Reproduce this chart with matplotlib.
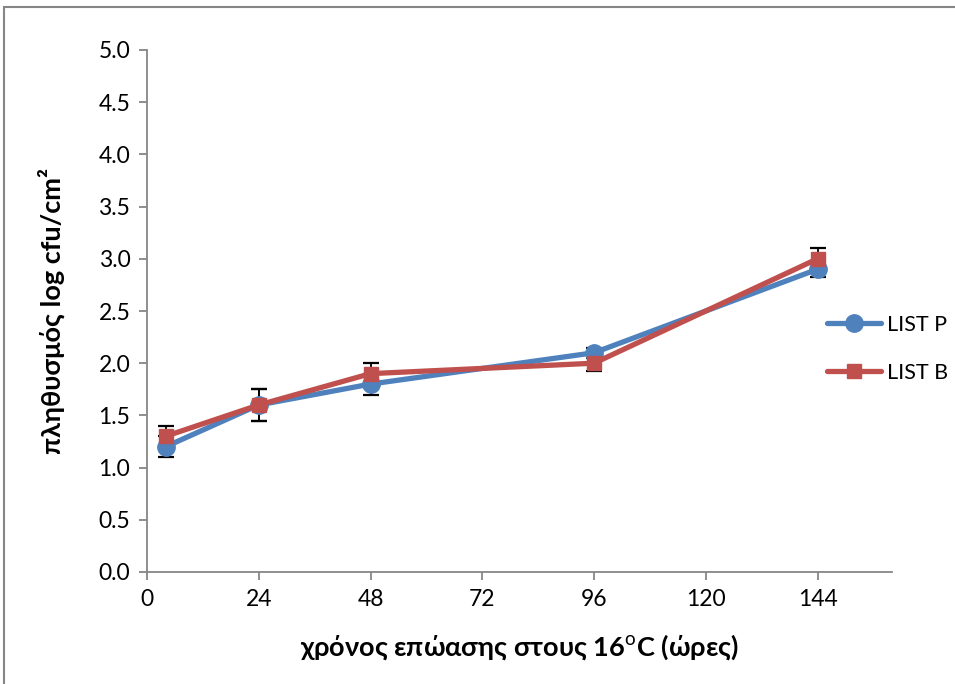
import matplotlib
matplotlib.use("Agg")
import matplotlib.pyplot as plt
from matplotlib.patches import Rectangle

plt.rcParams["font.family"] = ["Lato", "Open Sans", "DejaVu Sans"]
plt.rcParams["mathtext.fontset"] = "custom"
plt.rcParams["mathtext.bf"] = "Lato:bold"
plt.rcParams["mathtext.rm"] = "Lato"

hours = [4, 24, 48, 96, 144]
list_p = [1.2, 1.6, 1.8, 2.1, 2.9]
list_b = [1.3, 1.6, 1.9, 2.0, 3.0]
err_p = [0.1, 0.15, 0.1, 0.05, 0.07]
err_b = [0.1, 0.15, 0.1, 0.07, 0.1]

x_ticks = [0, 24, 48, 72, 96, 120, 144]
y_ticks = [0.0, 0.5, 1.0, 1.5, 2.0, 2.5, 3.0, 3.5, 4.0, 4.5, 5.0]

BLUE = "#4F81BD"
RED = "#C0504D"
GRID = "#868686"

W, H = 955, 684
fig = plt.figure(figsize=(W / 100, H / 100), dpi=100)
ax = fig.add_axes([147 / W, 1 - 572 / H, (892 - 147) / W, (572 - 50) / H])

# error bars behind the series
ax.errorbar(hours, list_p, yerr=err_p, fmt="none", ecolor="black",
            elinewidth=1.3, capsize=5.5, capthick=1.6, zorder=1)
ax.errorbar(hours, list_b, yerr=err_b, fmt="none", ecolor="black",
            elinewidth=1.3, capsize=5.5, capthick=1.6, zorder=1)

ax.plot(hours, list_p, color=BLUE, lw=3.8, marker="o", ms=12.5,
        label="LIST P", zorder=3, solid_capstyle="round")
ax.plot(hours, list_b, color=RED, lw=3.8, marker="s", ms=10,
        label="LIST B", zorder=4, solid_capstyle="round")

ax.set_xlim(0, 160)
ax.set_ylim(0, 5)
ax.set_xticks(x_ticks)
ax.set_yticks(y_ticks)
ax.set_yticklabels([f"{v:.1f}" for v in y_ticks])

for s in ["top", "right"]:
    ax.spines[s].set_visible(False)
for s in ["left", "bottom"]:
    ax.spines[s].set_color(GRID)
    ax.spines[s].set_linewidth(1.3)
ax.tick_params(axis="both", direction="out", length=6, width=1.3,
               color=GRID, labelsize=16.5, labelcolor="black", pad=6)

ax.set_ylabel("πληθυσμός log cfu/cm²", fontsize=19.5, fontweight="bold",
              labelpad=24)
ax.set_xlabel(r"χρόνος επώασης στους 16$^{\mathrm{o}}$C (ώρες)",
              fontsize=19.5, fontweight="bold", labelpad=16)

fig.legend(loc="center left", bbox_to_anchor=(816 / W, 1 - 349 / H),
           frameon=False, fontsize=15.5, handlelength=2.5, handletextpad=0.3,
           labelspacing=1.3, borderpad=0)

# outer chart frame
fig.add_artist(Rectangle((4 / W, -0.1), 1.2, 1 - 7 / H + 0.1,
                         transform=fig.transFigure, fill=False,
                         edgecolor=GRID, lw=1.5, clip_on=False))

fig.savefig("out.png", dpi=100)
